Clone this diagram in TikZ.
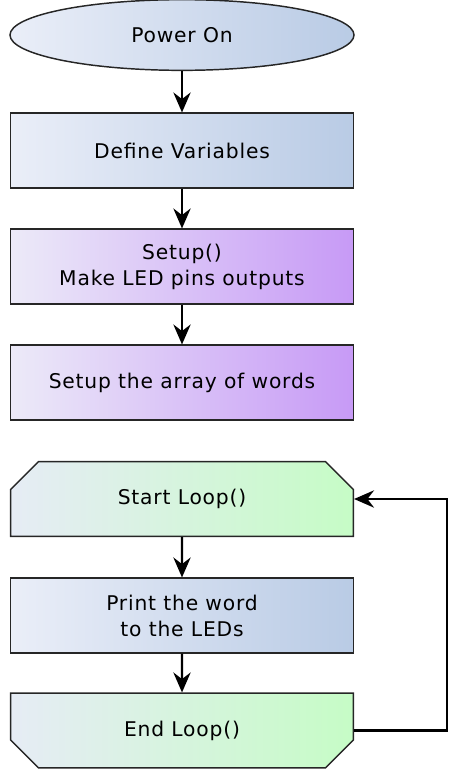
\documentclass[tikz,border=0pt]{standalone}
\usepackage{fontspec}
\setmainfont[LetterSpace=4]{DejaVu Sans}
\usetikzlibrary{shapes,shapes.geometric,shapes.misc,arrows.meta}

\definecolor{paleleft}{HTML}{EAEEF8}
\definecolor{steelright}{HTML}{B9CBE5}
\definecolor{violetright}{HTML}{C79AF6}
\definecolor{violetleft}{HTML}{ECEAF8}
\definecolor{mintright}{HTML}{C6FCC6}
\definecolor{mintleft}{HTML}{E6ECF5}

\begin{document}
\begin{tikzpicture}[x=0.75pt,y=-0.75pt]
				\tikzstyle{every node}=[font=\fontsize{15.2}{19.5}\selectfont, align=center, draw=black!85, line width=1.1pt]
				\tikzstyle{stepbox}=[rectangle, minimum width=257pt, minimum height=56pt]
				\tikzstyle{bluebox}=[stepbox, left color=paleleft, right color=steelright]
				\tikzstyle{violetbox}=[stepbox, left color=violetleft, right color=violetright]
				\tikzstyle{loopbox}=[chamfered rectangle, chamfered rectangle xsep=13.5pt, chamfered rectangle ysep=13.5pt, minimum width=257pt, minimum height=56pt, inner sep=0pt, left color=mintleft, right color=mintright]
				\tikzstyle{flow}=[draw=black, line width=1.6pt, -{Stealth[length=15pt,width=13pt,inset=5pt]}]
				\useasboundingbox (0,0) rectangle (454,775);
				% start and straight part
				\node[ellipse, minimum width=258pt, minimum height=53pt, left color=paleleft, right color=steelright] (power) at (182,35) {Power On};
				\node[bluebox] (vars) at (182,150.5) {Define Variables};
				\node[violetbox] (setup) at (182,266.5) {Setup()\\Make LED pins outputs};
				\node[violetbox] (words) at (182,382.5) {Setup the array of words};
				% the loop
				\node[loopbox, chamfered rectangle corners={north west,north east}] (start) at (182,499) {Start Loop()};
				\node[bluebox] (print) at (182,615.5) {Print the word\\to the LEDs};
				\node[loopbox, chamfered rectangle corners={south west,south east}] (end) at (182,730.5) {End Loop()};
				\coordinate (back) at (447,0);
				\draw[flow] (power) -- (vars);
				\draw[flow] (vars) -- (setup);
				\draw[flow] (setup) -- (words);
				\draw[flow] (start) -- (print);
				\draw[flow] (print) -- (end);
				\draw[flow] (end.east) -| (back |- end.east) |- (start.east);
			\end{tikzpicture}
\end{document}
